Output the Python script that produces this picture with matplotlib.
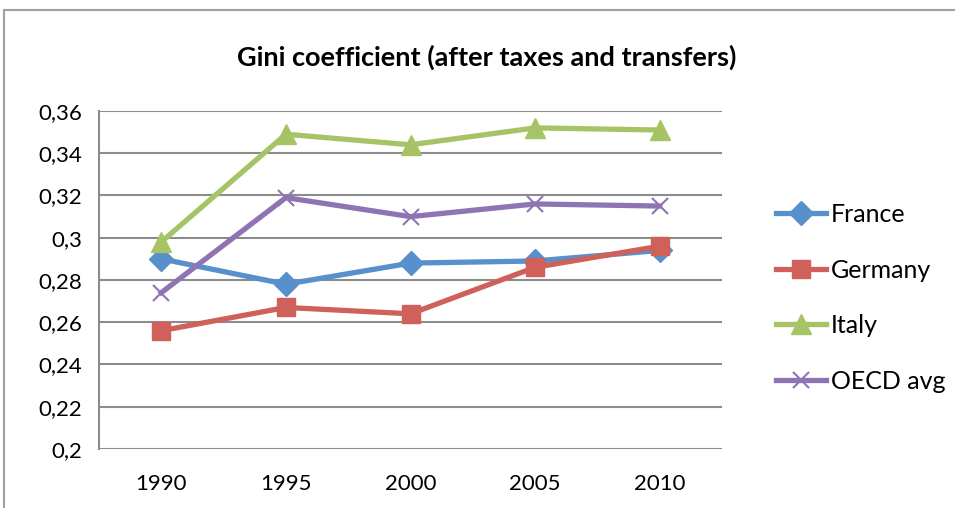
import numpy as np
import matplotlib.pyplot as plt
from matplotlib.patches import Rectangle

plt.rcParams["font.family"] = ["Lato", "DejaVu Sans"]

years = ["1990", "1995", "2000", "2005", "2010"]
france = [0.290, 0.278, 0.288, 0.289, 0.294]
germany = [0.256, 0.267, 0.264, 0.286, 0.296]
italy = [0.298, 0.349, 0.344, 0.352, 0.351]
oecd = [0.274, 0.319, 0.310, 0.316, 0.315]
yticks = [0.2, 0.22, 0.24, 0.26, 0.28, 0.3, 0.32, 0.34, 0.36]
ytick_labels = ["0,2", "0,22", "0,24", "0,26", "0,28", "0,3", "0,32", "0,34", "0,36"]

fig = plt.figure(figsize=(9.55, 5.08), dpi=100)
ax = fig.add_axes([99/955, 59/508, 623/955, 338/508])

x = np.arange(len(years))
ax.plot(x, france, color="#5890CC", lw=3.8, marker="D", ms=12, label="France", zorder=3)
ax.plot(x, germany, color="#D0605A", lw=3.8, marker="s", ms=13, label="Germany", zorder=3)
ax.plot(x, italy, color="#A6C465", lw=3.8, marker="^", ms=14, label="Italy", zorder=3)
ax.plot(x, oecd, color="#8E74B3", lw=3.8, marker="x", ms=12, mew=1.5, label="OECD avg", zorder=3)

ax.set_xlim(-0.5, 4.5)
ax.set_ylim(0.2, 0.36)
ax.set_xticks(x)
ax.set_xticklabels(years)
ax.set_yticks(yticks)
ax.set_yticklabels(ytick_labels)
ax.tick_params(length=0, labelsize=16)
ax.tick_params(axis="y", pad=12)
ax.tick_params(axis="x", pad=18)

ax.grid(axis="y", color="#8C8C8C", lw=1.5)
ax.set_axisbelow(True)
for s in ["top", "right", "bottom"]:
    ax.spines[s].set_visible(False)
ax.spines["left"].set_color("#8C8C8C")
ax.spines["left"].set_linewidth(1.5)

fig.text(487/955, 1 - 57/508, "Gini coefficient (after taxes and transfers)",
         ha="center", va="center", fontsize=19.5, fontweight="bold")

ax.legend(loc="center left", bbox_to_anchor=(1.05, 0.447), frameon=False,
          fontsize=18, labelspacing=1.3, handlelength=2.0, handletextpad=0.2)

fig.patches.append(Rectangle((4/955, -0.1), 1.2, 1 - 10/508 + 0.1, transform=fig.transFigure,
                             fill=False, edgecolor="#A0A0A0", lw=1.5))

plt.savefig("out.png", dpi=100)
